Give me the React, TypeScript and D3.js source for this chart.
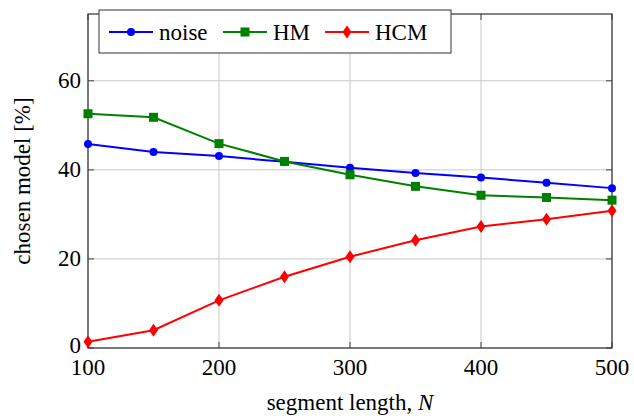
import React from "react";
import * as d3 from "d3";

const lengths = [100, 150, 200, 250, 300, 350, 400, 450, 500];
const noise = [45.8, 44.0, 43.1, 41.8, 40.5, 39.3, 38.3, 37.1, 35.9];
const hm = [52.6, 51.8, 45.9, 41.9, 38.9, 36.3, 34.3, 33.8, 33.2];
const hcm = [1.4, 4.0, 10.7, 16.0, 20.5, 24.2, 27.3, 28.9, 30.8];
const xTicks = [100, 200, 300, 400, 500];
const yTicks = [0, 20, 40, 60];

const series = [
  { name: "noise", values: noise, color: "#0000ff", marker: "circle" },
  { name: "HM", values: hm, color: "#008000", marker: "square" },
  { name: "HCM", values: hcm, color: "#ff0000", marker: "diamond" },
];

const W = 634;
const H = 418;
const m = { left: 88, right: 612, top: 14, bottom: 348 };
const font = "'Times New Roman', 'Liberation Serif', 'DejaVu Serif', serif";

function Marker({ type, x, y, color }: { type: string; x: number; y: number; color: string }) {
  if (type === "circle") return <circle cx={x} cy={y} r={4} fill={color} />;
  if (type === "square") return <rect x={x - 4.5} y={y - 4.5} width={9} height={9} fill={color} />;
  return <path d={`M${x},${y - 6.5}L${x + 4.5},${y}L${x},${y + 6.5}L${x - 4.5},${y}Z`} fill={color} />;
}

const T = (p: any) => <text fontFamily={font} fontSize={23} {...p} />;

export default function App() {
  const x = d3.scaleLinear().domain([100, 500]).range([m.left, m.right]);
  const y = d3.scaleLinear().domain([0, 75]).range([m.bottom, m.top]);
  const line = d3
    .line<number>()
    .x((_, i) => x(lengths[i]))
    .y((d) => y(d));

  return (
    <svg width={W} height={H} style={{ position: "absolute", left: 0, top: 0, background: "#fff" }}>
      {xTicks.map((t) => (
        <line key={"gx" + t} x1={x(t)} x2={x(t)} y1={m.top} y2={m.bottom} stroke="#c8c8c8" strokeWidth={1} />
      ))}
      {yTicks.map((t) => (
        <line key={"gy" + t} x1={m.left} x2={m.right} y1={y(t)} y2={y(t)} stroke="#c8c8c8" strokeWidth={1} />
      ))}
      {xTicks.map((t) => (
        <g key={"tx" + t}>
          <line x1={x(t)} x2={x(t)} y1={m.bottom} y2={m.bottom - 6} stroke="#444" />
          <line x1={x(t)} x2={x(t)} y1={m.top} y2={m.top + 6} stroke="#444" />
          <T x={x(t)} y={m.bottom + 27} textAnchor="middle">{t}</T>
        </g>
      ))}
      {yTicks.map((t) => (
        <g key={"ty" + t}>
          <line x1={m.left} x2={m.left + 6} y1={y(t)} y2={y(t)} stroke="#444" />
          <line x1={m.right} x2={m.right - 6} y1={y(t)} y2={y(t)} stroke="#444" />
          <T x={m.left - 7} y={y(t) + (t === 0 ? 5 : 7)} textAnchor="end">{t}</T>
        </g>
      ))}
      <rect x={m.left} y={m.top} width={m.right - m.left} height={m.bottom - m.top} fill="none" stroke="#333" strokeWidth={1.2} />
      {series.map((s) => (
        <g key={s.name}>
          <path d={line(s.values) || ""} fill="none" stroke={s.color} strokeWidth={2} />
          {s.values.map((v, i) => (
            <Marker key={i} type={s.marker} x={x(lengths[i])} y={y(v)} color={s.color} />
          ))}
        </g>
      ))}
      <g>
        <rect x={99} y={10} width={352} height={43} fill="#fff" stroke="#333" strokeWidth={1} />
        {series.map((s, i) => {
          const lx = [109, 223, 325][i];
          return (
            <g key={"l" + s.name}>
              <line x1={lx} x2={lx + 44} y1={32} y2={32} stroke={s.color} strokeWidth={2} />
              <Marker type={s.marker} x={lx + 22} y={32} color={s.color} />
              <T x={lx + 50} y={40}>{s.name}</T>
            </g>
          );
        })}
      </g>
      <T x={(m.left + m.right) / 2} y={410} textAnchor="middle">
        segment length, <tspan fontStyle="italic">N</tspan>
      </T>
      <T transform={`translate(30,${(m.top + m.bottom) / 2}) rotate(-90)`} textAnchor="middle">
        chosen model [%]
      </T>
    </svg>
  );
}
